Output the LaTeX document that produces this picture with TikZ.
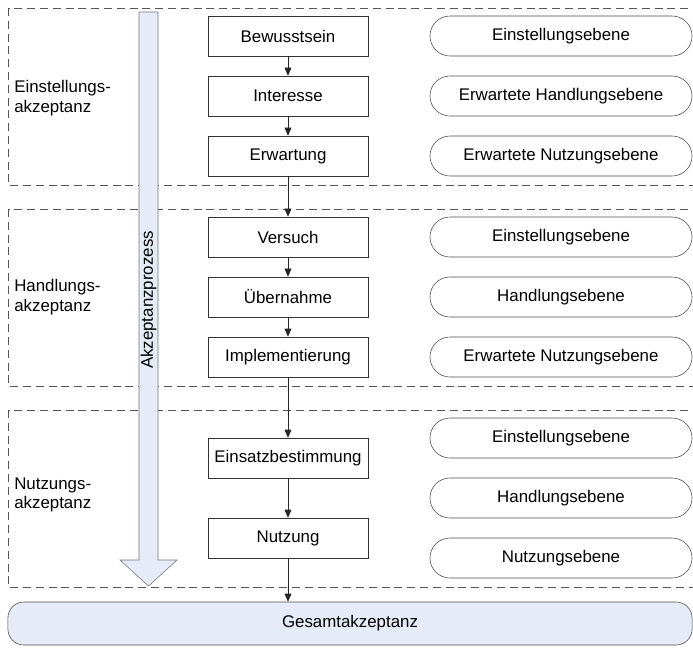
\documentclass[tikz,border=0pt]{standalone}
\usepackage{fontspec}
\setmainfont{Liberation Sans}
\usetikzlibrary{arrows.meta, positioning}
\definecolor{lightblue}{HTML}{E6ECF7}
\definecolor{linegray}{HTML}{555555}
\tikzset{
  stage/.style={draw=black!80, minimum width=4cm, minimum height=1cm, inner sep=0pt},
  level/.style={draw=black!70, rounded corners=0.5cm, minimum width=6.55cm, minimum height=1cm, inner sep=0pt},
  phase/.style={draw=linegray, dash pattern=on 0.2cm off 0.12cm},
  flow/.style={draw=black!85, -{Triangle[length=2mm,width=1.7mm]}},
  phaselabel/.style={anchor=west, align=left, inner sep=0pt}
}
\begin{document}
\begin{tikzpicture}[x=0.025cm, y=-0.025cm, font=\fontsize{12}{14}\selectfont]
\useasboundingbox (0,0) rectangle (693,647);

% Phasen
\draw [phase] (8,8) rectangle (696,185);
\draw [phase] (8,209) rectangle (696,386);
\draw [phase] (8,410) rectangle (696,587);

\node [phaselabel] (einstlabel) at (14,98) {Einstellungs-\\akzeptanz};
\node [phaselabel] (handlabel) at (14,297) {Handlungs-\\akzeptanz};
\node [phaselabel] (nutzlabel) at (14,495) {Nutzungs-\\akzeptanz};

% grosser Pfeil
\draw [draw=black!55, fill=lightblue] (139,12) -- (158,12) -- (158,560) -- (177,560) -- (148.5,586) -- (120,560) -- (139,560) -- cycle;
\node [rotate=90] (prozess) at (148.5,300) {Akzeptanzprozess};

% Stufen
\node [stage] (bewusst) at (288,36) {Bewusstsein};
\node [stage] (interesse) at (288,96) {Interesse};
\node [stage] (erwartung) at (288,156) {Erwartung};
\node [stage] (versuch) at (288,237) {Versuch};
\node [stage] (uebernahme) at (288,297) {Übernahme};
\node [stage] (implement) at (288,357) {Implementierung};
\node [stage] (einsatz) at (288,458) {Einsatzbestimmung};
\node [stage] (nutzung) at (288,538) {Nutzung};

\node [draw=black!70, fill=lightblue, rounded corners=0.4cm, minimum width=17.1cm, minimum height=1.075cm, inner sep=0pt] (gesamt) at (350,623.5) {Gesamtakzeptanz};

% Ebenen
\node [level] (e1) at (561,36) {Einstellungsebene};
\node [level] (e2) at (561,96) {Erwartete Handlungsebene};
\node [level] (e3) at (561,156) {Erwartete Nutzungsebene};
\node [level] (h1) at (561,237) {Einstellungsebene};
\node [level] (h2) at (561,297) {Handlungsebene};
\node [level] (h3) at (561,357) {Erwartete Nutzungsebene};
\node [level] (n1) at (561,438) {Einstellungsebene};
\node [level] (n2) at (561,498) {Handlungsebene};
\node [level] (n3) at (561,558) {Nutzungsebene};

\draw [flow] (bewusst) -- (interesse);
\draw [flow] (interesse) -- (erwartung);
\draw [flow] (erwartung) -- (versuch);
\draw [flow] (versuch) -- (uebernahme);
\draw [flow] (uebernahme) -- (implement);
\draw [flow] (implement) -- (einsatz);
\draw [flow] (einsatz) -- (nutzung);
\draw [flow] (nutzung) -- (nutzung |- gesamt.north);
\end{tikzpicture}
\end{document}
